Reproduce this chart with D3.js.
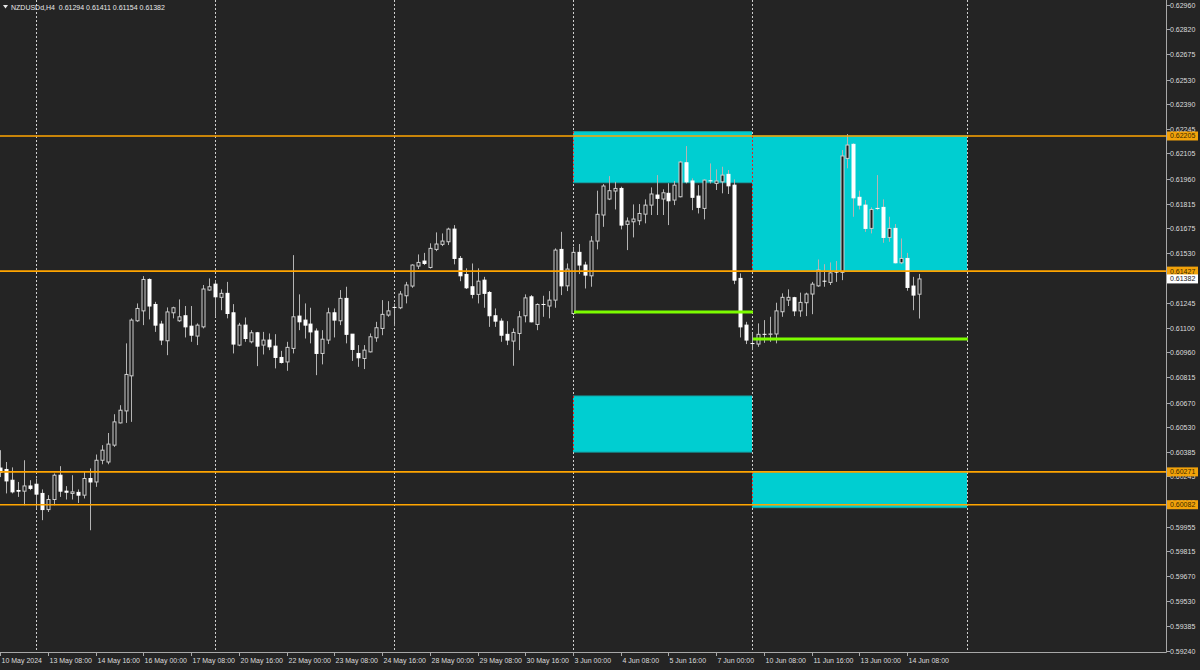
<!DOCTYPE html>
<html><head><meta charset="utf-8">
<script src="https://cdn.jsdelivr.net/npm/d3@7"></script>
<style>html,body{margin:0;padding:0;background:#242424;overflow:hidden}svg{display:block}</style>
</head><body><svg id="c" width="1200" height="670"></svg>
<script>
const symbolTitle = "NZDUSDd,H4";
const titleOHLC = ["0.61294", "0.61411", "0.61154", "0.61382"];

const opens = [0.60293,0.60285,0.60223,0.60164,0.60160,0.60190,0.60200,0.60147,0.60054,0.60112,0.60252,0.60160,0.60147,0.60153,0.60137,0.60233,0.60213,0.60338,0.60328,0.60425,0.60553,0.60622,0.60824,0.61141,0.61198,0.61379,0.61235,0.61122,0.61026,0.61187,0.61141,0.61170,0.61110,0.61053,0.61106,0.61318,0.61352,0.61276,0.61299,0.61187,0.61001,0.61116,0.61020,0.61072,0.61001,0.61030,0.60995,0.60930,0.60904,0.60982,0.61168,0.61145,0.61122,0.61082,0.60953,0.61030,0.61187,0.61141,0.61270,0.61064,0.60953,0.60924,0.60962,0.61043,0.61097,0.61174,0.61218,0.61216,0.61285,0.61341,0.61456,0.61485,0.61448,0.61552,0.61581,0.61596,0.61669,0.61500,0.61408,0.61337,0.61293,0.61375,0.61304,0.61170,0.61139,0.61063,0.61024,0.61068,0.61170,0.61279,0.61120,0.61235,0.61226,0.61260,0.61552,0.61342,0.61183,0.61535,0.61462,0.61400,0.61600,0.61750,0.61842,0.61888,0.61903,0.61696,0.61711,0.61717,0.61755,0.61807,0.61865,0.61842,0.61875,0.61836,0.61855,0.62051,0.61946,0.61859,0.61788,0.61947,0.61932,0.61941,0.61984,0.61922,0.61385,0.61116,0.61010,0.61007,0.61063,0.61063,0.61065,0.61193,0.61260,0.61274,0.61198,0.61245,0.61295,0.61342,0.61369,0.61362,0.61421,0.61420,0.62076,0.62157,0.61852,0.61807,0.61673,0.61788,0.61794,0.61621,0.61673,0.61475,0.61500,0.61341,0.61294];
const highs = [0.60396,0.60328,0.60297,0.60213,0.60338,0.60223,0.60233,0.60170,0.60137,0.60262,0.60304,0.60189,0.60252,0.60170,0.60271,0.60291,0.60371,0.60425,0.60495,0.60603,0.60655,0.61011,0.61155,0.61241,0.61398,0.61385,0.61250,0.61141,0.61218,0.61222,0.61264,0.61226,0.61226,0.61126,0.61347,0.61385,0.61375,0.61322,0.61365,0.61237,0.61129,0.61160,0.61087,0.61077,0.61077,0.61068,0.61064,0.60968,0.61020,0.61519,0.61293,0.61241,0.61216,0.61097,0.61087,0.61216,0.61212,0.61318,0.61337,0.61064,0.61001,0.61001,0.61068,0.61135,0.61260,0.61254,0.61241,0.61312,0.61365,0.61466,0.61523,0.61532,0.61587,0.61650,0.61644,0.61677,0.61692,0.61514,0.61443,0.61471,0.61443,0.61394,0.61312,0.61212,0.61155,0.61139,0.61097,0.61197,0.61293,0.61289,0.61241,0.61285,0.61312,0.61558,0.61653,0.61471,0.61567,0.61583,0.61481,0.61629,0.61890,0.61928,0.61974,0.61941,0.61913,0.61736,0.61811,0.61813,0.61840,0.61909,0.61980,0.61898,0.61933,0.61946,0.62062,0.62147,0.61961,0.61922,0.61955,0.62047,0.62013,0.62028,0.62009,0.61955,0.61414,0.61135,0.61068,0.61126,0.61145,0.61164,0.61245,0.61299,0.61322,0.61279,0.61303,0.61303,0.61365,0.61494,0.61467,0.61477,0.61485,0.62124,0.62216,0.62163,0.61890,0.61836,0.61794,0.61980,0.61840,0.61740,0.61698,0.61615,0.61532,0.61394,0.61411];
const lows = [0.60241,0.60147,0.60147,0.60127,0.60079,0.60166,0.60060,0.59993,0.60040,0.60079,0.60127,0.60112,0.60112,0.60092,0.60118,0.59935,0.60185,0.60315,0.60315,0.60415,0.60550,0.60553,0.60559,0.61135,0.61116,0.61149,0.61077,0.61001,0.60943,0.61155,0.61135,0.61045,0.61020,0.61001,0.61097,0.61314,0.61164,0.61202,0.61155,0.60953,0.60995,0.61020,0.61011,0.60880,0.60947,0.60972,0.60867,0.60895,0.60853,0.60953,0.61087,0.61039,0.61011,0.60828,0.60890,0.61007,0.61045,0.61116,0.61011,0.60910,0.60876,0.60863,0.60959,0.61020,0.61058,0.61164,0.61110,0.61208,0.61241,0.61331,0.61439,0.61462,0.61442,0.61542,0.61571,0.61577,0.61466,0.61369,0.61324,0.61270,0.61241,0.61216,0.61106,0.61106,0.61020,0.61001,0.60882,0.60972,0.61132,0.61132,0.61087,0.61164,0.61155,0.61216,0.61289,0.61312,0.61174,0.61410,0.61327,0.61337,0.61552,0.61682,0.61836,0.61782,0.61667,0.61548,0.61621,0.61692,0.61702,0.61750,0.61750,0.61750,0.61692,0.61807,0.61852,0.61932,0.61778,0.61759,0.61725,0.61932,0.61894,0.61875,0.61871,0.61352,0.61045,0.61007,0.60972,0.60991,0.61014,0.61020,0.61011,0.61164,0.61226,0.61168,0.61164,0.61168,0.61179,0.61337,0.61337,0.61347,0.61365,0.61375,0.62019,0.61740,0.61782,0.61653,0.61644,0.61778,0.61590,0.61596,0.61471,0.61467,0.61314,0.61202,0.61154];
const closes = [0.60269,0.60219,0.60156,0.60160,0.60190,0.60176,0.60143,0.60054,0.60112,0.60252,0.60160,0.60154,0.60156,0.60137,0.60233,0.60213,0.60338,0.60396,0.60431,0.60559,0.60626,0.60832,0.61145,0.61212,0.61379,0.61226,0.61116,0.61030,0.61192,0.61216,0.61164,0.61106,0.61058,0.61116,0.61324,0.61337,0.61279,0.61299,0.61183,0.61007,0.61116,0.61039,0.61072,0.60995,0.61030,0.60991,0.60930,0.60901,0.60988,0.61164,0.61135,0.61116,0.61077,0.60953,0.61035,0.61187,0.61145,0.61270,0.61063,0.60976,0.60928,0.60972,0.61049,0.61101,0.61178,0.61198,0.61218,0.61295,0.61347,0.61462,0.61477,0.61471,0.61558,0.61583,0.61600,0.61669,0.61500,0.61400,0.61331,0.61293,0.61369,0.61299,0.61170,0.61139,0.61058,0.61030,0.61074,0.61164,0.61273,0.61135,0.61235,0.61235,0.61260,0.61548,0.61342,0.61439,0.61535,0.61462,0.61404,0.61600,0.61754,0.61917,0.61890,0.61903,0.61692,0.61715,0.61727,0.61759,0.61807,0.61871,0.61846,0.61878,0.61832,0.61922,0.62055,0.61941,0.61852,0.61794,0.61951,0.61947,0.61946,0.61980,0.61918,0.61375,0.61106,0.61030,0.61010,0.61063,0.61063,0.61065,0.61198,0.61276,0.61276,0.61198,0.61247,0.61295,0.61352,0.61433,0.61369,0.61417,0.61421,0.62090,0.62153,0.61849,0.61807,0.61673,0.61782,0.61788,0.61621,0.61673,0.61475,0.61500,0.61333,0.61289,0.61382];

const dateLabels = ["10 May 2024","13 May 08:00","14 May 16:00","16 May 00:00","17 May 08:00","20 May 16:00","22 May 00:00","23 May 08:00","24 May 16:00","28 May 00:00","29 May 08:00","30 May 16:00","3 Jun 00:00","4 Jun 08:00","5 Jun 16:00","7 Jun 00:00","10 Jun 08:00","11 Jun 16:00","13 Jun 00:00","14 Jun 08:00"];
const dateLabelBars = [0,8,16,24,32,40,48,56,64,72,80,88,96,104,112,120,128,136,144,152];
const priceTicks = ["0.62960","0.62820","0.62675","0.62530","0.62390","0.62245","0.62105","0.61960","0.61815","0.61675","0.61530","0.61385","0.61245","0.61100","0.60960","0.60815","0.60670","0.60530","0.60385","0.60245","0.60100","0.59955","0.59815","0.59670","0.59530","0.59385","0.59240"];
const separatorBars = [6,36,66,96,126,162];
const levelPrices = [0.62205,0.61427,0.60271,0.60082];
const zoneStartBars = [96,96,126,126];
const zoneEndBars = [126,126,162,162];
const zoneTops = [0.62230,0.60708,0.62205,0.60270];
const zoneBottoms = [0.61936,0.60385,0.61427,0.60065];
const supportStartBars = [96,126];
const supportEndBars = [126,162];
const supportPrices = [0.61192,0.61036];
const lastPrice = 0.61382;

const W = 1200, H = 670, plotRight = 1166, plotBottom = 652;
const svg = d3.select("#c");
const FONT = "'Liberation Sans', Arial, sans-serif";
const BG = "#242424";

svg.append("rect").attr("width", W).attr("height", H).attr("fill", BG);

const x = d3.scaleLinear().domain([6, 126]).range([36, 752]);
const y = d3.scaleLinear().domain([0.59234, 0.62988]).range([plotBottom, 0]);
const px = v => Math.round(x(v)) + 0.5;

const bars = opens.map((o, i) => ({i, o, h: highs[i], l: lows[i], c: closes[i]}));

const plot = svg.append("g");

// zones (background)
const zones = zoneTops.map((t, k) => ({s: zoneStartBars[k], e: zoneEndBars[k], t, b: zoneBottoms[k]}));
plot.selectAll("rect.zone").data(zones).join("rect")
  .attr("x", d => Math.round(x(d.s)))
  .attr("y", d => y(d.t))
  .attr("width", d => Math.round(x(d.e)) - Math.round(x(d.s)))
  .attr("height", d => y(d.b) - y(d.t))
  .attr("fill", "#00ced1");
plot.selectAll("line.zt").data(zones.flatMap(d => [[d, d.t], [d, d.b]])).join("line")
  .attr("x1", d => Math.round(x(d[0].s))).attr("x2", d => Math.round(x(d[0].e)))
  .attr("y1", d => y(d[1])).attr("y2", d => y(d[1]))
  .attr("stroke", "#14a3a6").attr("stroke-width", 1);

// separators
plot.selectAll("line.sep").data(separatorBars).join("line")
  .attr("x1", d => px(d)).attr("x2", d => px(d))
  .attr("y1", 0).attr("y2", plotBottom)
  .attr("stroke", "#d0d0d0").attr("stroke-width", 1).attr("stroke-dasharray", "2,2");

// zone left edges (red dotted)
plot.selectAll("line.zl").data(zones).join("line")
  .attr("x1", d => px(d.s)).attr("x2", d => px(d.s))
  .attr("y1", d => y(d.t)).attr("y2", d => y(d.b))
  .attr("stroke", "#e02020").attr("stroke-width", 1).attr("stroke-dasharray", "2,2");

// candles
const cg = plot.append("g");
cg.selectAll("line.wick").data(bars).join("line")
  .attr("x1", d => px(d.i)).attr("x2", d => px(d.i))
  .attr("y1", d => y(d.h)).attr("y2", d => y(d.l))
  .attr("stroke", "#b4b4b4").attr("stroke-width", 1);
cg.selectAll("rect.body").data(bars).join("rect")
  .attr("x", d => px(d.i) - 1.5)
  .attr("y", d => y(Math.max(d.o, d.c)))
  .attr("width", 3)
  .attr("height", d => Math.max(0.01, y(Math.min(d.o, d.c)) - y(Math.max(d.o, d.c))))
  .attr("fill", d => d.c > d.o ? "#1c1c1c" : "#ffffff")
  .attr("stroke", d => d.c > d.o ? "#cfcfcf" : "#ffffff")
  .attr("stroke-width", 1);

// level lines
plot.selectAll("line.lvl").data(levelPrices).join("line")
  .attr("x1", 0).attr("x2", plotRight)
  .attr("y1", d => y(d)).attr("y2", d => y(d))
  .attr("stroke", "#ffa500").attr("stroke-width", 1.6);

// support lines
plot.selectAll("line.sup").data(supportPrices.map((p, k) => ({p, s: supportStartBars[k], e: supportEndBars[k]}))).join("line")
  .attr("x1", d => x(d.s) + 1).attr("x2", d => x(d.e) + 1)
  .attr("y1", d => y(d.p)).attr("y2", d => y(d.p))
  .attr("stroke", "#7cfc00").attr("stroke-width", 3);

// mask right panel
svg.append("rect").attr("x", plotRight).attr("y", 0).attr("width", W - plotRight).attr("height", H).attr("fill", BG);
svg.append("rect").attr("x", 0).attr("y", plotBottom).attr("width", W).attr("height", H - plotBottom).attr("fill", BG);

// axes lines
svg.append("line").attr("x1", plotRight + 0.5).attr("x2", plotRight + 0.5).attr("y1", 0).attr("y2", plotBottom + 0.5)
  .attr("stroke", "#a8a8a8").attr("stroke-width", 1);
svg.append("line").attr("x1", 0).attr("x2", plotRight + 0.5).attr("y1", plotBottom + 0.5).attr("y2", plotBottom + 0.5)
  .attr("stroke", "#a8a8a8").attr("stroke-width", 1);

// price ticks
const ya = svg.append("g");
priceTicks.forEach(t => {
  const yy = Math.round(y(+t)) + 0.5;
  ya.append("line").attr("x1", plotRight).attr("x2", plotRight + 4).attr("y1", yy).attr("y2", yy)
    .attr("stroke", "#a8a8a8");
  ya.append("text").attr("x", 1170).attr("y", yy).attr("dy", "0.35em")
    .attr("font-family", FONT).attr("font-size", 7).attr("fill", "#dcdcdc").text(t);
});

// level labels
levelPrices.forEach(p => {
  const yy = y(p);
  ya.append("rect").attr("x", 1167).attr("y", yy - 4.5).attr("width", 31).attr("height", 9)
    .attr("fill", "#f2a20a");
  ya.append("text").attr("x", 1170).attr("y", yy).attr("dy", "0.35em")
    .attr("font-family", FONT).attr("font-size", 7).attr("fill", "#3a2a00").text(p.toFixed(5));
});
{
  const yy = y(lastPrice);
  ya.append("rect").attr("x", 1167).attr("y", yy - 4.5).attr("width", 31).attr("height", 9).attr("fill", "#ffffff");
  ya.append("text").attr("x", 1170).attr("y", yy).attr("dy", "0.35em")
    .attr("font-family", FONT).attr("font-size", 7).attr("fill", "#202020").text(lastPrice.toFixed(5));
}

// date labels
const xa = svg.append("g");
dateLabels.forEach((lab, k) => {
  const xx = Math.round(x(dateLabelBars[k])) + 0.5;
  xa.append("line").attr("x1", xx).attr("x2", xx).attr("y1", plotBottom).attr("y2", plotBottom + 4)
    .attr("stroke", "#a8a8a8");
  xa.append("text").attr("x", Math.max(0, xx + 1)).attr("y", 662.5)
    .attr("font-family", FONT).attr("font-size", 7).attr("fill", "#dcdcdc").text(lab);
});

// title
svg.append("path").attr("d", "M3,5 L8,5 L5.5,8.5 Z").attr("fill", "#e8e8e8");
svg.append("text").attr("x", 11).attr("y", 9.5).attr("font-family", FONT).attr("font-size", 7)
  .attr("fill", "#e8e8e8").attr("xml:space", "preserve")
  .text(symbolTitle + "  " + titleOHLC.join(" "));
</script></body></html>
